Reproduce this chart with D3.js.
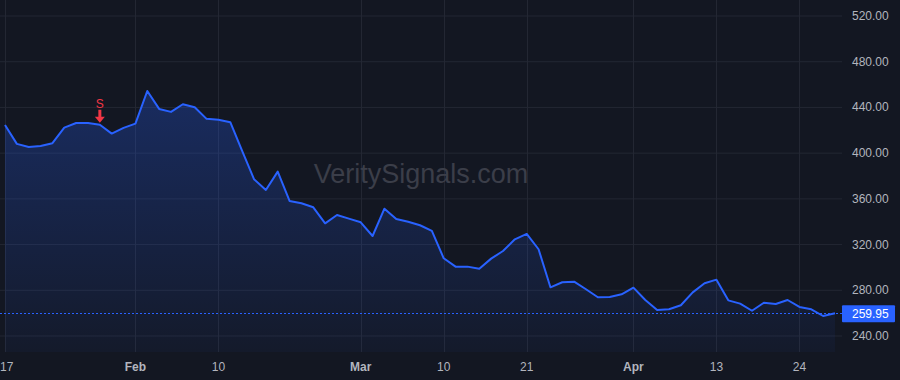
<!DOCTYPE html>
<html lang="en">
<head>
	<meta charset="utf-8">
	<title>VeritySignals chart</title>
	<script src="https://d3js.org/d3.v7.min.js"></script>
	<style>
		html, body { margin: 0; padding: 0; background: #131722; }
		svg { display: block; }
		text { font-family: "Liberation Sans", Arial, sans-serif; }
	</style>
</head>
<body>
	<div id="chart"></div>
	<script>
		// closing prices, one per bar
		let prices = [
			424.7, 408.1, 405.4, 406.3, 408.7, 422.3, 426.4, 426.4, 424.9, 417.1,
			422.1, 425.8, 454.4, 438.7, 436.1, 442.8, 440.2, 430.0, 429.3, 427.1,
			401.9, 377.2, 367.8, 383.8, 358.2, 356.2, 352.6, 338.6, 345.9, 342.7,
			339.5, 327.5, 351.4, 342.4, 340.0, 336.9, 331.9, 308.0, 300.7, 300.7,
			298.9, 307.7, 314.4, 324.6, 329.3, 315.9, 282.6, 287.0, 287.5, 280.9,
			273.9, 274.1, 276.5, 282.3, 271.5, 262.8, 263.4, 266.9, 278.2, 286.1,
			289.3, 271.2, 268.3, 262.1, 269.1, 268.0, 271.5, 265.4, 263.4, 257.5,
			259.95
		];
		// time axis labels and the bar they sit on
		let tickIndex = [0, 11, 18, 30, 37, 44, 53, 60, 67];
		let tickLabels = ["17", "Feb", "10", "Mar", "10", "21", "Apr", "13", "24"];
		let monthLabels = ["Feb", "Mar", "Apr"];
		// price axis
		let priceTicks = [240, 280, 320, 360, 400, 440, 480, 520];
		// sell signal
		let signalIndex = [8];
		let signalLabels = ["S"];
		let lastPrice = prices[prices.length - 1];

		let width = 900;
		let height = 380;
		let plotRight = 842;
		let plotBottom = 352;

		let svg = d3.select("#chart")
			.append("svg")
			.attr("width", width)
			.attr("height", height);

		svg.append("rect")
			.attr("width", width)
			.attr("height", height)
			.attr("fill", "#131722");

		let x = d3.scaleLinear()
			.domain([0, prices.length - 1])
			.range([5, 835]);
		let y = d3.scaleLinear()
			.domain([240, 520])
			.range([336, 16]);

		// grid
		svg.append("g")
			.selectAll("line")
			.data(priceTicks)
			.enter()
			.append("line")
			.attr("x1", 0)
			.attr("x2", plotRight)
			.attr("y1", d => y(d))
			.attr("y2", d => y(d))
			.attr("stroke", "#232733")
			.attr("stroke-width", 1);
		svg.append("g")
			.selectAll("line")
			.data(tickIndex)
			.enter()
			.append("line")
			.attr("x1", d => Math.round(x(d)) + 0.5)
			.attr("x2", d => Math.round(x(d)) + 0.5)
			.attr("y1", 0)
			.attr("y2", plotBottom)
			.attr("stroke", "#232733")
			.attr("stroke-width", 1);

		// watermark
		svg.append("text")
			.attr("x", 421)
			.attr("y", 183)
			.attr("text-anchor", "middle")
			.attr("font-size", 27)
			.attr("fill", "#3b3e49")
			.text("VeritySignals.com");

		// area fill
		let grad = svg.append("defs")
			.append("linearGradient")
			.attr("id", "fillGrad")
			.attr("gradientUnits", "userSpaceOnUse")
			.attr("x1", 0).attr("x2", 0)
			.attr("y1", y(d3.max(prices)))
			.attr("y2", plotBottom);
		grad.append("stop").attr("offset", "0%").attr("stop-color", "#2962ff").attr("stop-opacity", 0.28);
		grad.append("stop").attr("offset", "100%").attr("stop-color", "#2962ff").attr("stop-opacity", 0.04);

		svg.append("path")
			.datum(prices)
			.attr("fill", "url(#fillGrad)")
			.attr("d", d3.area()
				.x((d, i) => x(i))
				.y0(plotBottom)
				.y1(d => y(d))
			);

		// last price dotted line
		svg.append("line")
			.attr("x1", 0)
			.attr("x2", plotRight)
			.attr("y1", Math.round(y(lastPrice)) + 0.5)
			.attr("y2", Math.round(y(lastPrice)) + 0.5)
			.attr("stroke", "#2962ff")
			.attr("stroke-width", 1)
			.attr("stroke-dasharray", "2,2");

		// price line
		svg.append("path")
			.datum(prices)
			.attr("fill", "none")
			.attr("stroke", "#2962ff")
			.attr("stroke-width", 2)
			.attr("stroke-linejoin", "round")
			.attr("d", d3.line()
				.x((d, i) => x(i))
				.y(d => y(d))
			);

		// sell marker
		let sig = svg.append("g")
			.selectAll("g")
			.data(signalIndex)
			.enter()
			.append("g")
			.attr("transform", d => "translate(" + x(d) + "," + y(prices[d]) + ")");
		sig.append("path")
			.attr("d", "M-1.5,-15 L1.5,-15 L1.5,-8 L5,-8 L0,-2 L-5,-8 L-1.5,-8 Z")
			.attr("fill", "#f23645");
		sig.append("text")
			.attr("y", -17)
			.attr("text-anchor", "middle")
			.attr("font-size", 12)
			.attr("fill", "#f23645")
			.text((d, i) => signalLabels[i]);

		// price axis
		svg.append("g")
			.selectAll("text")
			.data(priceTicks)
			.enter()
			.append("text")
			.attr("x", 852)
			.attr("y", d => y(d) + 4)
			.attr("font-size", 12)
			.attr("fill", "#b2b5be")
			.text(d => d.toFixed(2));

		// last price label
		svg.append("rect")
			.attr("x", plotRight)
			.attr("y", y(lastPrice) - 8)
			.attr("width", 53)
			.attr("height", 17)
			.attr("rx", 1)
			.attr("fill", "#2962ff");
		svg.append("text")
			.attr("x", 852)
			.attr("y", y(lastPrice) + 4.5)
			.attr("font-size", 12)
			.attr("fill", "#ffffff")
			.text(lastPrice.toFixed(2));

		// time axis, the first label is pushed in so it stays on screen
		svg.append("g")
			.selectAll("text")
			.data(tickIndex)
			.enter()
			.append("text")
			.attr("x", d => x(d))
			.attr("y", 371)
			.attr("text-anchor", "middle")
			.attr("font-size", 12)
			.attr("font-weight", (d, i) => monthLabels.includes(tickLabels[i]) ? "bold" : "normal")
			.attr("fill", "#b2b5be")
			.text((d, i) => tickLabels[i])
			.each(function(d) {
				let w = this.getComputedTextLength();
				if (x(d) - w / 2 < 0) {
					d3.select(this).attr("x", 0).attr("text-anchor", "start");
				}
			});
	</script>
</body>
</html>
